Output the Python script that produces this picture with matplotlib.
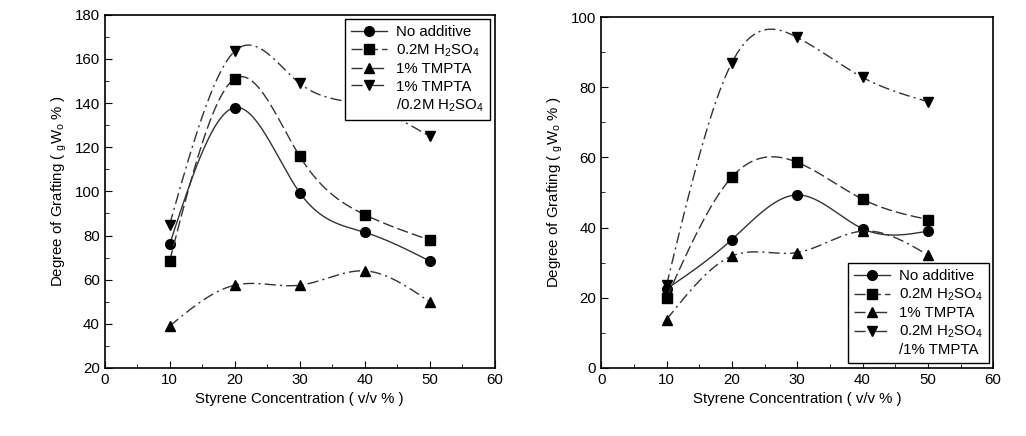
import numpy as np
import matplotlib
matplotlib.use("Agg")
import matplotlib.pyplot as plt
from matplotlib.ticker import MultipleLocator

plt.rcParams['font.family'] = ['Liberation Sans', 'DejaVu Sans']
plt.rcParams['mathtext.default'] = 'regular'

# styrene concentration (v/v %)
styrene = [10, 20, 30, 40, 50]

# left panel
left_none = [76, 138, 99.5, 81.5, 68.5]
left_acid = [68.5, 151, 116, 89.5, 78]
left_tmpta = [39, 57.5, 57.5, 64, 50]
left_both = [85, 163.5, 149, 139, 125]

# right panel
right_none = [22.5, 36.6, 49.3, 39.7, 39]
right_acid = [20, 54.4, 58.6, 48.1, 42.3]
right_tmpta = [13.8, 31.9, 32.9, 39, 32.2]
right_both = [23.6, 87, 94.2, 82.8, 75.9]

labels_left = ['No additive', '0.2M H$_2$SO$_4$', '1% TMPTA',
               '1% TMPTA', '/0.2M H$_2$SO$_4$']
labels_right = ['No additive', '0.2M H$_2$SO$_4$', '1% TMPTA',
                '0.2M H$_2$SO$_4$', '/1% TMPTA']


def spline(x, y, n=200):
    # natural cubic spline, used only to draw the smooth connecting line
    x = np.asarray(x, float)
    y = np.asarray(y, float)
    k = len(x)
    h = np.diff(x)
    A = np.zeros((k, k))
    b = np.zeros(k)
    A[0, 0] = A[-1, -1] = 1
    for i in range(1, k - 1):
        A[i, i - 1] = h[i - 1]
        A[i, i] = 2 * (h[i - 1] + h[i])
        A[i, i + 1] = h[i]
        b[i] = 6 * ((y[i + 1] - y[i]) / h[i] - (y[i] - y[i - 1]) / h[i - 1])
    m = np.linalg.solve(A, b)
    xs = np.linspace(x[0], x[-1], n)
    idx = np.clip(np.searchsorted(x, xs) - 1, 0, k - 2)
    x0, x1 = x[idx], x[idx + 1]
    hh = x1 - x0
    t0 = x1 - xs
    t1 = xs - x0
    ys = (m[idx] * t0 ** 3 + m[idx + 1] * t1 ** 3) / (6 * hh) \
        + (y[idx] / hh - m[idx] * hh / 6) * t0 \
        + (y[idx + 1] / hh - m[idx + 1] * hh / 6) * t1
    return xs, ys


markers = ['o', 's', '^', 'v']
dashes = [None, (8, 3), (8, 3, 1.5, 3), (8, 3, 1.5, 3)]

fig = plt.figure(figsize=(10.26, 4.36), dpi=100)
ax1 = fig.add_axes([0.102, 0.156, 0.380, 0.810])
ax2 = fig.add_axes([0.586, 0.156, 0.382, 0.805])


def draw(ax, series, labels, loc):
    handles = []
    for vals, mk, ds, lab in zip(series, markers, dashes, labels):
        xs, ys = spline(styrene, vals)
        ln, = ax.plot(xs, ys, color='#333333', lw=1.0)
        if ds is not None:
            ln.set_dashes(ds)
        ax.plot(styrene, vals, mk, color='black', ms=7, ls='none')
        h, = ax.plot([], [], color='#333333', lw=1.0, marker=mk, ms=7,
                     mfc='black', mec='black', label=lab)
        if ds is not None:
            h.set_dashes(ds)
        handles.append(h)
    # second line of the last label, without its own symbol
    blank, = ax.plot([], [], ls='none', marker='none', label=labels[-1])
    handles.append(blank)
    leg = ax.legend(handles=handles, loc=loc, fontsize=10.8, frameon=True,
                    fancybox=False, edgecolor='black', framealpha=1,
                    handlelength=2.4, labelspacing=0.22, borderaxespad=0.3,
                    handletextpad=0.6)
    leg.get_frame().set_linewidth(1.0)
    leg.set_zorder(10)
    ax.set_xlim(0, 60)
    ax.xaxis.set_major_locator(MultipleLocator(10))
    ax.xaxis.set_minor_locator(MultipleLocator(5))
    ax.tick_params(which='both', direction='in', labelsize=10.8)
    ax.tick_params(which='major', length=5)
    ax.tick_params(which='minor', length=3)
    ax.set_xlabel('Styrene Concentration ( v/v % )', fontsize=10.8)
    ax.set_ylabel('Degree of Grafting ( ${}_{g}$W$_{o}$ % )', fontsize=10.8)
    for s in ax.spines.values():
        s.set_linewidth(1.2)


draw(ax1, [left_none, left_acid, left_tmpta, left_both], labels_left,
     'upper right')
ax1.set_ylim(20, 180)
ax1.yaxis.set_major_locator(MultipleLocator(20))
ax1.yaxis.set_minor_locator(MultipleLocator(10))

draw(ax2, [right_none, right_acid, right_tmpta, right_both], labels_right,
     'lower right')
ax2.set_ylim(0, 100)
ax2.yaxis.set_major_locator(MultipleLocator(20))
ax2.yaxis.set_minor_locator(MultipleLocator(10))

fig.savefig('out.png', dpi=100)
